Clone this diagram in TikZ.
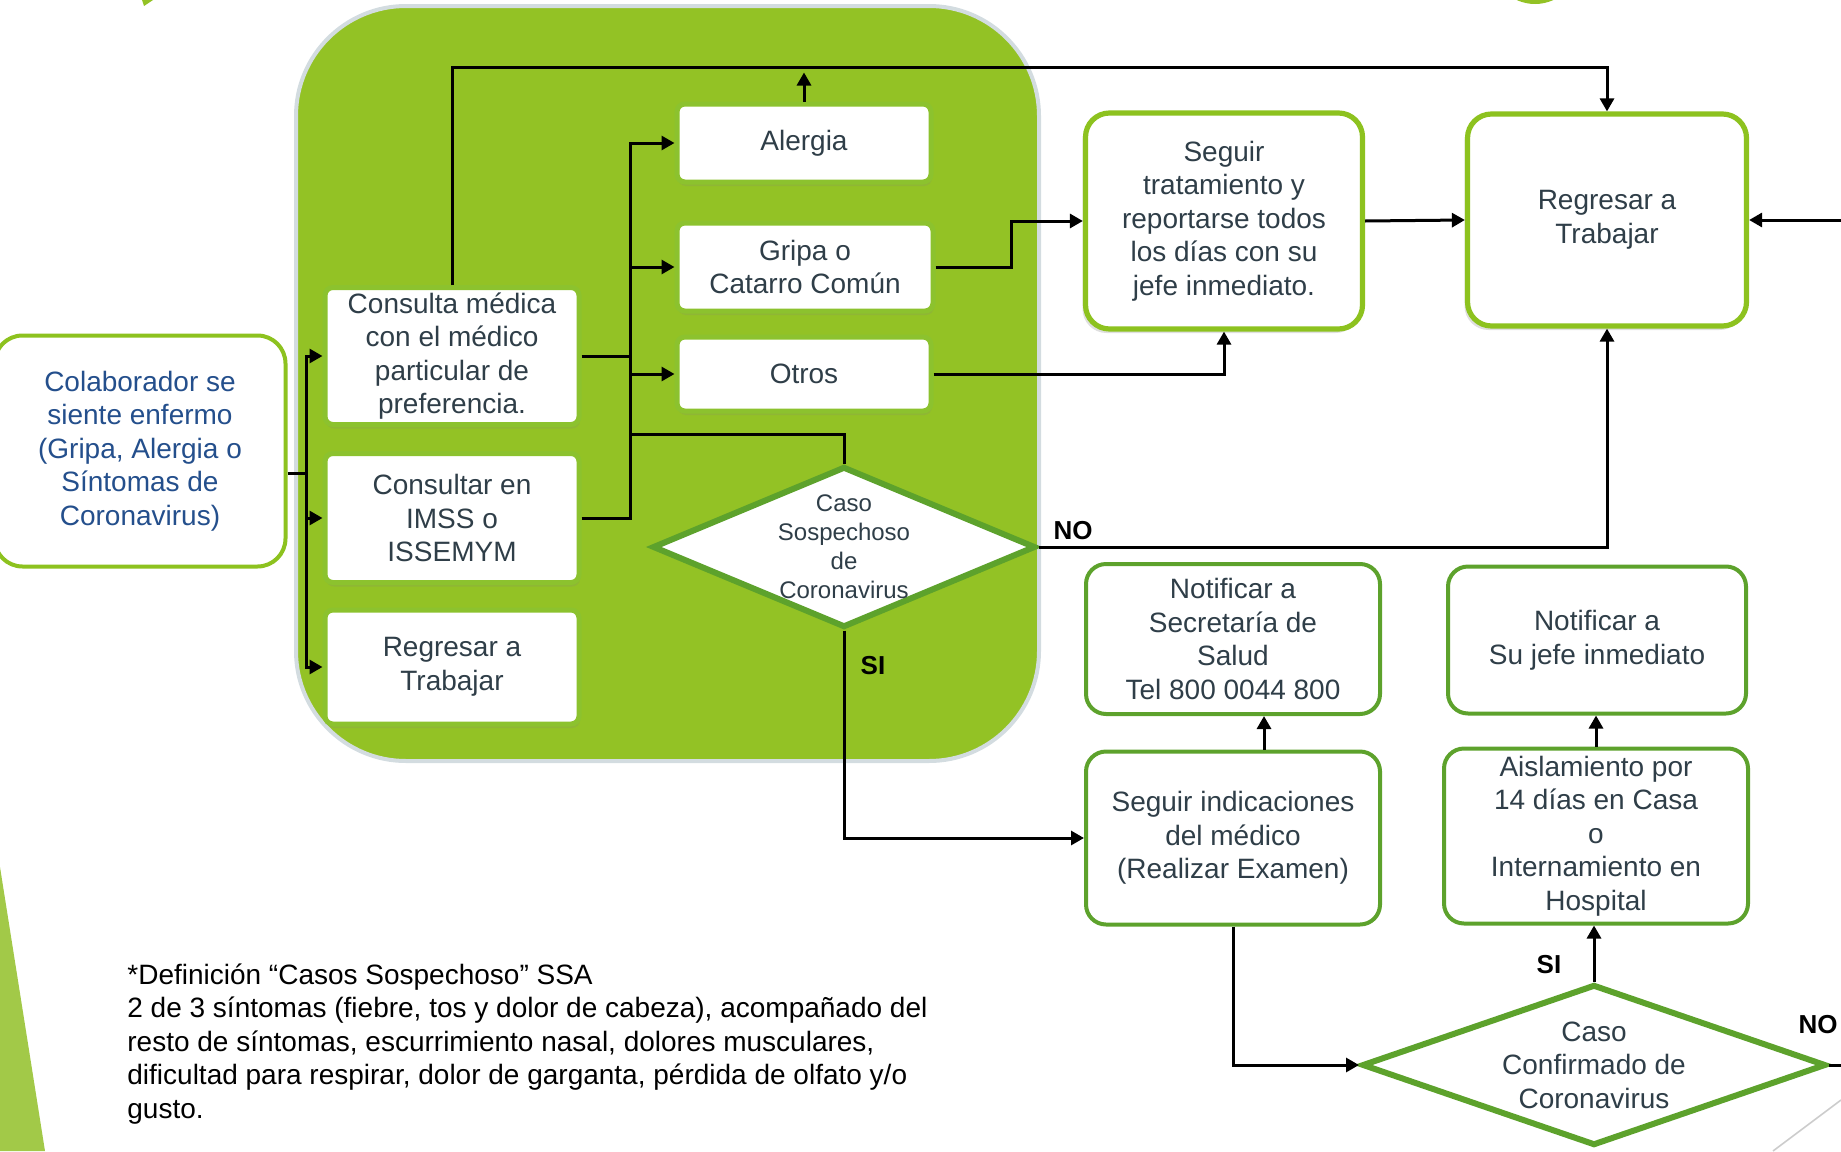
\documentclass[tikz,border=0pt]{standalone}
\usepackage{fontspec}
\setmainfont{Liberation Sans}
\usetikzlibrary{shapes.geometric,arrows.meta,shadows}

\definecolor{leafbg}{HTML}{93C225}
\definecolor{leafedge}{HTML}{D3DCE0}
\definecolor{leafrim}{HTML}{8CC22E}
\definecolor{litegreen}{HTML}{8DC21F}
\definecolor{deepgreen}{HTML}{5DA22C}
\definecolor{slidegreen}{HTML}{A2C948}
\definecolor{boxtext}{HTML}{2F3E48}
\definecolor{bluetext}{HTML}{244F8C}

\tikzset{
  base/.style={align=center, inner sep=0pt, text=boxtext,
    font=\fontsize{14}{16.8}\selectfont},
  onleaf/.style={base, fill=white, draw=leafrim, line width=2.5pt,
    rounded corners=4pt,
    drop shadow={opacity=0.18, shadow xshift=0.5pt, shadow yshift=-2pt}},
  bigbox/.style={base, fill=white, draw=litegreen, line width=2.6pt,
    rounded corners=12pt,
    drop shadow={opacity=0.25, shadow xshift=-1.5pt, shadow yshift=-2pt}},
  lowbox/.style={base, fill=white, draw=deepgreen, line width=2pt,
    rounded corners=10pt},
  sidebox/.style={base, text=bluetext, fill=white, draw=litegreen,
    line width=2pt, rounded corners=14pt},
  decision/.style={diamond, fill=white, draw=deepgreen, line width=3pt,
    inner sep=0pt},
  dtext/.style={base, font=\fontsize{12}{14.5}\selectfont},
  answer/.style={inner sep=0pt, font=\fontsize{13}{15}\selectfont\bfseries},
  note/.style={align=left, inner sep=0pt,
    font=\fontsize{14}{16.75}\selectfont},
  line/.style={line width=1.5pt},
  arr/.style={line, -{Triangle[length=6.5pt,width=7pt]}},
  nohead/.style={-}
}

\begin{document}
\begin{tikzpicture}[x=0.5pt,y=-0.5pt]
  \useasboundingbox (0,0) rectangle (1841,1151);
  \clip (0,0) rectangle (1841,1151);
  % adornos de la lamina
  \fill[slidegreen] (0,867) -- (45,1151) -- (0,1151) -- cycle;
  \fill[leafbg] (142,0) -- (153,0) -- (144,6) -- cycle;
  \fill[leafbg] (1535,-40) circle[radius=44];
  \draw[black!20, line width=0.8pt] (1841,1100) -- (1773,1151);
  % zona verde
  \draw[fill=leafbg, draw=leafedge, line width=2pt, rounded corners=55pt]
    (296,6) rectangle (1039,761);

  \node[sidebox, minimum width=145.5pt, minimum height=115.5pt] (colaborador)
    at (140,451) {Colaborador se\\siente enfermo\\(Gripa, Alergia o\\Síntomas de\\Coronavirus)};
  \node[onleaf, minimum width=127pt, minimum height=68.5pt] (consulta)
    at (452,356) {Consulta médica\\con el médico\\particular de\\preferencia.};
  \node[onleaf, minimum width=127pt, minimum height=64.5pt] (imss)
    at (452,518) {Consultar en\\IMSS o\\ISSEMYM};
  \node[onleaf, minimum width=127pt, minimum height=57pt] (regresarl)
    at (452,667) {Regresar a\\Trabajar};
  \node[onleaf, minimum width=127pt, minimum height=39pt] (alergia)
    at (804,143) {Alergia};
  \node[onleaf, minimum width=128pt, minimum height=44pt] (gripa)
    at (805,267) {Gripa o\\Catarro Común};
  \node[onleaf, minimum width=127pt, minimum height=37pt] (otros)
    at (804,374) {Otros};
  \node[decision, minimum width=191.5pt, minimum height=80.5pt,
    label={[dtext]center:{Caso\\Sospechoso\\de\\Coronavirus}}] (sospechoso)
    at (844,547) {};
  \node[bigbox, minimum width=138.5pt, minimum height=108pt] (tratamiento)
    at (1224,221) {Seguir\\tratamiento y\\reportarse todos\\los días con su\\jefe inmediato.};
  \node[bigbox, minimum width=139.5pt, minimum height=106pt] (regresarr)
    at (1607,220) {Regresar a\\Trabajar};
  \node[lowbox, minimum width=147pt, minimum height=75pt] (secretaria)
    at (1233,639) {Notificar a\\Secretaría de\\Salud\\Tel 800 0044 800};
  \node[lowbox, minimum width=149pt, minimum height=73.5pt] (jefe)
    at (1597,640) {Notificar a\\Su jefe inmediato};
  \node[lowbox, minimum width=147pt, minimum height=86.5pt] (indicaciones)
    at (1233,838) {Seguir indicaciones\\del médico\\(Realizar Examen)};
  \node[lowbox, minimum width=152pt, minimum height=87.5pt] (aislamiento)
    at (1596,836) {Aislamiento por\\14 días en Casa\\o\\Internamiento en\\Hospital};
  \node[decision, minimum width=232pt, minimum height=80.5pt,
    label={[base]center:{Caso\\Confirmado de\\Coronavirus}}] (confirmado)
    at (1594,1065) {};

  \node[answer] (nouno) at (1073,531) {NO};
  \node[answer] (siuno) at (873,666) {SI};
  \node[answer] (sidos) at (1549,965) {SI};
  \node[answer] (nodos) at (1818,1025) {NO};

  \node[note, anchor=north west] (definicion) at (127,963)
    {*Definición “Casos Sospechoso” SSA\\
     2 de 3 síntomas (fiebre, tos y dolor de cabeza), acompañado del\\
     resto de síntomas, escurrimiento nasal, dolores musculares,\\
     dificultad para respirar, dolor de garganta, pérdida de olfato y/o\\
     gusto.};

  \coordinate (busl) at (306,473);
  \coordinate (busr) at (630,356);
  \coordinate (rightin) at (1841,220);
  \coordinate (rightout) at (1841,1065);

  \begin{scope}[arr]
    \draw[nohead] (colaborador.east |- busl) -- (busl);
    \draw (busl) |- (consulta.west);
    \draw (busl) |- (imss.west);
    \draw (busl) |- (regresarl.west);
    \draw[nohead] (consulta.east) -- (busr);
    \draw[nohead] (imss.east) -| (busr);
    \draw (busr) |- (alergia.west);
    \draw (busr) |- (gripa.west);
    \draw (busr) |- (otros.west);
    \draw[nohead] (busr |- 0,434) -| (sospechoso.north);
    \draw (consulta.north) -- (consulta.north |- 0,67) -| (regresarr.north);
    \draw (alergia.north) -- ++(0,-29);
    \draw (gripa.east) -- (gripa.east -| 1011,0) |- (tratamiento.west);
    \draw (otros.east) -| (tratamiento.south);
    \draw (tratamiento.east) -- (regresarr.west);
    \draw (rightin) -- (regresarr.east);
    \draw (sospechoso.east) -| (regresarr.south);
    \draw (sospechoso.south) |- (indicaciones.west);
    \draw ([xshift=15.5pt]indicaciones.north) -- ([xshift=15.5pt]secretaria.south);
    \draw (indicaciones.south) |- (confirmado.west);
    \draw (confirmado.north) -- (confirmado.north |- aislamiento.south);
    \draw (aislamiento.north) -- (aislamiento.north |- jefe.south);
    \draw[nohead] (confirmado.east) -- (rightout);
  \end{scope}
\end{tikzpicture}
\end{document}
